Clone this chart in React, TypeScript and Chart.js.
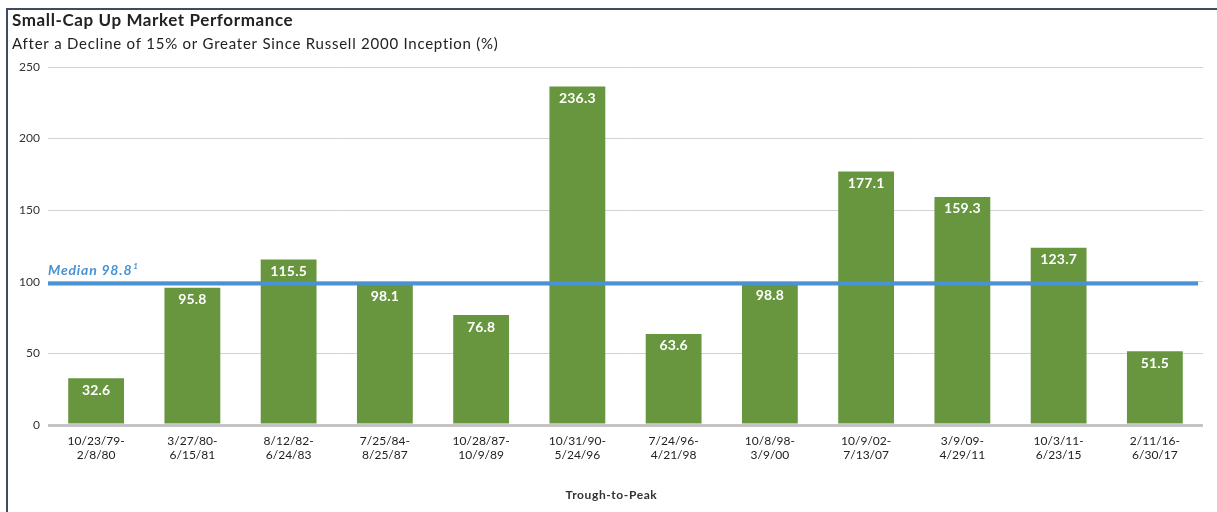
import React, { useEffect, useRef } from "react";
import { Chart, registerables } from "chart.js";

Chart.register(...registerables);

const categories: string[][] = [
  ["10/23/79-", "2/8/80"],
  ["3/27/80-", "6/15/81"],
  ["8/12/82-", "6/24/83"],
  ["7/25/84-", "8/25/87"],
  ["10/28/87-", "10/9/89"],
  ["10/31/90-", "5/24/96"],
  ["7/24/96-", "4/21/98"],
  ["10/8/98-", "3/9/00"],
  ["10/9/02-", "7/13/07"],
  ["3/9/09-", "4/29/11"],
  ["10/3/11-", "6/23/15"],
  ["2/11/16-", "6/30/17"],
];
const values: number[] = [32.6, 95.8, 115.5, 98.1, 76.8, 236.3, 63.6, 98.8, 177.1, 159.3, 123.7, 51.5];
const median = 98.8;
const yTicks: number[] = [0, 50, 100, 150, 200, 250];
const titleText = "Small-Cap Up Market Performance";
const subtitleText = "After a Decline of 15% or Greater Since Russell 2000 Inception (%)";
const xAxisTitle = "Trough-to-Peak";

const FONT = "Lato, 'Open Sans', sans-serif";
const GREEN = "#67963f";
const BLUE = "#4a93d2";

const overlayPlugin = {
  id: "overlay",
  beforeDraw(chart: any) {
    const ctx = chart.ctx;
    ctx.save();
    ctx.fillStyle = "#ffffff";
    ctx.fillRect(0, 0, chart.width, chart.height);
    // frame
    ctx.strokeStyle = "#3e4c60";
    ctx.lineWidth = 2;
    ctx.beginPath();
    ctx.moveTo(7, chart.height);
    ctx.lineTo(7, 9);
    ctx.lineTo(chart.width, 9);
    ctx.stroke();
    // titles
    ctx.fillStyle = "#222222";
    ctx.textAlign = "left";
    ctx.textBaseline = "middle";
    ctx.font = `bold 17px ${FONT}`;
    ctx.letterSpacing = "0.6px";
    ctx.fillText(titleText, 12, 21);
    ctx.font = `15px ${FONT}`;
    ctx.letterSpacing = "0.75px";
    ctx.fillText(subtitleText, 12, 44);
    ctx.letterSpacing = "0px";
    ctx.restore();
  },
  afterDatasetsDraw(chart: any) {
    const ctx = chart.ctx;
    const y = chart.scales.y;
    const area = chart.chartArea;
    ctx.save();
    // median line
    const my = y.getPixelForValue(median);
    ctx.strokeStyle = BLUE;
    ctx.lineWidth = 4;
    ctx.beginPath();
    ctx.moveTo(area.left, my);
    ctx.lineTo(area.right - 5, my);
    ctx.stroke();
    // median label
    ctx.fillStyle = BLUE;
    ctx.textAlign = "left";
    ctx.textBaseline = "alphabetic";
    ctx.font = `italic bold 14px ${FONT}`;
    ctx.letterSpacing = "0.8px";
    const lbl = `Median ${median}`;
    ctx.fillText(lbl, area.left, my - 9);
    const w = ctx.measureText(lbl).width;
    ctx.font = `italic bold 8px ${FONT}`;
    ctx.fillText("1", area.left + w + 1, my - 15);
    // value labels
    const meta = chart.getDatasetMeta(0);
    ctx.fillStyle = "#ffffff";
    ctx.font = `bold 14px ${FONT}`;
    ctx.letterSpacing = "0.2px";
    ctx.textAlign = "center";
    ctx.textBaseline = "middle";
    meta.data.forEach((bar: any, i: number) => {
      ctx.fillText(values[i].toFixed(1), bar.x, bar.y + 12);
    });
    ctx.letterSpacing = "0px";
    ctx.restore();
  },
  afterDraw(chart: any) {
    const ctx = chart.ctx;
    const area = chart.chartArea;
    ctx.save();
    ctx.fillStyle = "#333333";
    ctx.font = `bold 12px ${FONT}`;
    ctx.letterSpacing = "0.6px";
    ctx.textAlign = "center";
    ctx.textBaseline = "middle";
    ctx.fillText(xAxisTitle, (area.left + area.right) / 2 - 14, 495);
    ctx.letterSpacing = "0px";
    ctx.restore();
  },
};

export default function App() {
  const ref = useRef<HTMLCanvasElement | null>(null);
  useEffect(() => {
    if (!ref.current) return;
    const chart = new Chart(ref.current, {
      type: "bar",
      data: {
        labels: categories,
        datasets: [
          {
            data: values,
            backgroundColor: GREEN,
            borderWidth: 0,
            categoryPercentage: 1,
            barPercentage: 0.58,
          },
        ],
      },
      options: {
        animation: false,
        responsive: false,
        devicePixelRatio: 1,
        layout: { padding: { top: 67, right: 14, left: 0, bottom: 0 } },
        plugins: {
          legend: { display: false },
          title: { display: false },
          tooltip: { enabled: false },
        },
        scales: {
          x: {
            grid: { display: false, drawTicks: false },
            border: { display: false },
            ticks: {
              color: "#222222",
              font: { family: FONT, size: 12 },
              padding: 9,
              maxRotation: 0,
              autoSkip: false,
            },
            afterFit(scale: any) {
              scale.height = 87;
            },
          },
          y: {
            min: 0,
            max: 250,
            afterBuildTicks(scale: any) {
              scale.ticks = yTicks.map((v) => ({ value: v }));
            },
            grid: {
              drawTicks: false,
              color: (c: any) => (c.tick && c.tick.value === 0 ? "#c4c4c8" : "#d2d2d2"),
              lineWidth: (c: any) => (c.tick && c.tick.value === 0 ? 3 : 1),
            },
            border: { display: false },
            ticks: {
              color: "#333333",
              font: { family: FONT, size: 12 },
              padding: 8,
            },
            afterFit(scale: any) {
              scale.width = 48;
            },
          },
        },
      },
      plugins: [overlayPlugin],
    });
    return () => chart.destroy();
  }, []);
  return (
    <div style={{ position: "absolute", left: 0, top: 0, width: 1217, height: 512, background: "#fff" }}>
      <canvas ref={ref} width={1217} height={512} style={{ display: "block", width: 1217, height: 512 }} />
    </div>
  );
}
